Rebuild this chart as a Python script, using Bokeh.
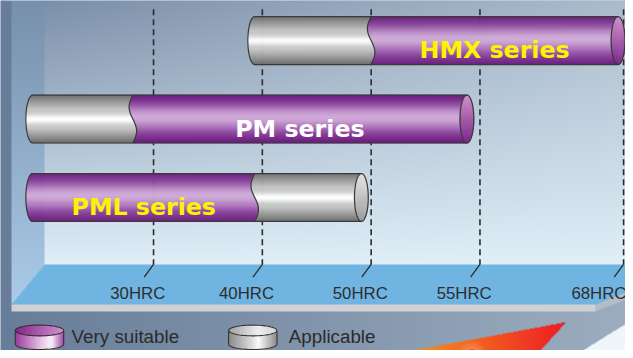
import numpy as np
from bokeh.plotting import figure
from bokeh.models import Range1d
from bokeh.core.properties import value
from bokeh.embed import file_html
from bokeh.resources import INLINE

# ---------------- data ----------------
tick_labels = ["30HRC", "40HRC", "50HRC", "55HRC", "68HRC"]
tick_hrc = [30, 40, 50, 55, 68]
series_names = ["HMX series", "PM series", "PML series"]
applicable_from = [39.3, 18.9, 39.3]
applicable_to = [50.0, 28.1, 49.1]
suitable_from = [50.0, 28.1, 18.9]
suitable_to = [67.5, 54.4, 39.3]
legend_labels = ["Very suitable", "Applicable"]

# ------------- scale / style -------------
AXIS_POS = [0.0, 1.0, 2.0, 3.0, 4.32]      # non-uniform axis of the artwork
LABEL_NUDGE_PX = [0, 0, 5, 0, -9]
LABEL_COLORS = ["#fff200", "#ffffff", "#fff200"]
PX, PY = 110.2, 80.25                      # artwork pixels per x / y unit
X0, Y0 = 155.0, 201.5
REF_W, REF_H = 633, 358                    # artwork size
W, H = 625, 350                            # figure size
FS = W / REF_W                             # font scale


def X(px):
    return (np.asarray(px, float) - X0) / PX


def Y(py):
    return (Y0 - np.asarray(py, float)) / PY


def hrc_to_x(v):
    v = np.asarray(v, float)
    out = np.interp(v, tick_hrc, AXIS_POS)
    slope = (AXIS_POS[1] - AXIS_POS[0]) / (tick_hrc[1] - tick_hrc[0])
    return np.where(v < tick_hrc[0], AXIS_POS[0] + (v - tick_hrc[0]) * slope, out)


def C(h):
    h = h.lstrip("#")
    return np.array([int(h[i:i + 2], 16) for i in (0, 2, 4)], float)


def hexc(c):
    c = np.clip(np.round(c), 0, 255).astype(int)
    return "#%02x%02x%02x" % tuple(c)


def mixa(c1, c2, t):
    t = np.asarray(t, float)[..., None]
    return c1 * (1 - t) + c2 * t


def fpx(s):
    return "%.1fpx" % (s * FS)


# ------------- figure -------------
p = figure(width=W, height=H, output_backend="svg", toolbar_location=None,
           x_range=Range1d(float(X(0)), float(X(REF_W))),
           y_range=Range1d(float(Y(REF_H)), float(Y(0))),
           x_axis_location=None, y_axis_location=None, title=None,
           min_border=0, outline_line_color=None)
p.xgrid.visible = False
p.ygrid.visible = False
p.background_fill_color = "#8fa2b8"
p.border_fill_color = "#8fa2b8"

# ------------- background artwork (image) -------------
xs = (np.arange(W) + 0.5) * REF_W / W
ys = (np.arange(H) + 0.5) * REF_H / H
XX, YY = np.meshgrid(xs, ys)
img = mixa(C("#687d99"), C("#9cadbf"), np.clip(XX / 633, 0, 1))
# back wall
tw = np.clip(YY / 270, 0, 1)
top = mixa(C("#7b8fa9"), C("#aabbcc"), np.clip((XX - 45) / 588, 0, 1))
wall = top * (1 - tw[..., None]) + C("#e0eff8") * tw[..., None]
m = (XX >= 45) & (YY < 270)
img[m] = wall[m]
# left wall
lim = 270 + (45 - XX) * 41 / 34
m = (XX >= 11) & (XX < 45) & (YY < lim)
lw = mixa(C("#7790ab"), C("#abcbe8"), np.clip(YY / 311, 0, 1))
img[m] = lw[m]
# floor
xl = 45 - (YY - 270) * 34 / 41
yr = 311 - (XX - 603) * 0.4
m = (YY >= 270) & (YY < 311) & (XX >= xl) & ((XX <= 603) | (YY <= yr))
img[m] = C("#70b4e2")
m = (YY >= 311) & (YY < 318) & (XX >= 11) & (XX <= 603)
img[m] = C("#cfd1d4")
m = (XX > 603) & (YY > yr) & (YY <= yr + 7)
img[m] = C("#b4bcc5")
# orange/red wedge
ax, ay, bx, by, cx, cy = 418, 358, 573, 329, 547, 358


def side(x1, y1, x2, y2, x, y):
    return (x2 - x1) * (y - y1) - (y2 - y1) * (x - x1)


s1 = side(ax, ay, bx, by, XX, YY)
s2 = side(bx, by, cx, cy, XX, YY)
s3 = side(cx, cy, ax, ay, XX, YY)
m = ((s1 >= 0) & (s2 >= 0) & (s3 >= 0)) | ((s1 <= 0) & (s2 <= 0) & (s3 <= 0))
wedge = mixa(C("#f7941d"), C("#ed1c24"), np.clip((XX - ax) / (bx - ax), 0, 1))
img[m] = wedge[m]
d = np.hypot(XX - 478, YY - 364)
halo = np.clip(1 - d / 16, 0, 1)[..., None] * 0.6
glow = img * (1 - halo) + C("#fbd3c4") * halo
img[d < 16] = glow[d < 16]
img[d < 7] = C("#e8202a")
# white shape bottom right
m = (XX > 590) & (YY > 358 - (XX - 590) * 27 / 43)
img[m] = C("#eef6fb")

rgba = np.zeros((H, W, 4), dtype=np.uint8)
rgba[..., :3] = np.clip(img, 0, 255).astype(np.uint8)
rgba[..., 3] = 255
arr = np.ascontiguousarray(rgba[::-1]).view(np.uint32).reshape(H, W)
p.image_rgba(image=[arr], x=float(X(0)), y=float(Y(REF_H)),
             dw=float(X(REF_W) - X(0)), dh=float(Y(0) - Y(REF_H)))

# ------------- ticks -------------
tick_x = hrc_to_x(tick_hrc)
nt = len(tick_labels)
p.segment(x0=list(tick_x), y0=[float(Y(9))] * nt, x1=list(tick_x), y1=[float(Y(270))] * nt,
          line_color="#2b2b2b", line_width=1.6, line_dash="6 4")
p.segment(x0=list(tick_x), y0=[float(Y(270))] * nt, x1=list(tick_x - 9.5 / PX),
          y1=[float(Y(283))] * nt, line_color="#2b2b2b", line_width=1.3)
p.text(x=list(tick_x + (np.array(LABEL_NUDGE_PX) - 16) / PX), y=[float(Y(299.5))] * nt,
       text=tick_labels, text_align="center", text_baseline="middle",
       text_font=value("Liberation Sans"), text_font_size=fpx(17), text_color="#2e2e2e")

# ------------- cylinders -------------
HH = 24.5 / PY
A = 7.0 / PX
AMP = 3.8 / PX
N = 48


def purple(v):
    s = 1 - np.abs(v)
    base = mixa(C("#6a1c7c"), C("#9a56aa"), np.clip(s * 1.6, 0, 1))
    w = np.exp(-((v + 0.05) / 0.4) ** 2)[..., None]
    return base * (1 - w) + C("#d0abd8") * w


def gray(v):
    s = 1 - np.abs(v)
    base = mixa(C("#6e6e6e"), C("#c4c4c4"), np.clip(s * 1.7, 0, 1))
    w = np.exp(-((v - 0.02) / 0.2) ** 2)[..., None]
    return base * (1 - w) + C("#ffffff") * w


def face_purple(v):
    return mixa(C("#d394cc"), C("#7a2888"), (v + 1) / 2)


def face_gray(v):
    return mixa(C("#e8e8e8"), C("#9c9c9c"), (v + 1) / 2)


ve = np.linspace(-1, 1, N + 1)
vm = (ve[:-1] + ve[1:]) / 2
um = (vm + 1) / 2
L, R, T, B, F = [], [], [], [], []
FL, FR, FT, FB, FF = [], [], [], [], []
outlines_x, outlines_y = [], []
n = len(series_names)
for i in range(n):
    yc = n - 1 - i
    gray_left = applicable_from[i] < suitable_from[i]
    start = float(hrc_to_x(min(applicable_from[i], suitable_from[i])))
    end = float(hrc_to_x(max(applicable_to[i], suitable_to[i])))
    trans = float(hrc_to_x(applicable_to[i] if gray_left else suitable_to[i]))
    cap = A * np.sqrt(1 - vm ** 2)
    wave = -AMP * np.sin(2 * np.pi * um)
    tops = yc - HH * ve[:-1]
    bots = yc - HH * ve[1:]
    cl = gray(vm) if gray_left else purple(vm)
    cr = purple(vm) if gray_left else gray(vm)
    cf = face_purple(vm) if gray_left else face_gray(vm)
    for k in range(N):
        L += [start - cap[k], trans + wave[k]]
        R += [trans + wave[k] + 0.3 / PX, end]
        T += [tops[k], tops[k]]
        B += [bots[k], bots[k]]
        F += [hexc(cl[k]), hexc(cr[k])]
        FL.append(end - cap[k]); FR.append(end + cap[k])
        FT.append(tops[k]); FB.append(bots[k]); FF.append(hexc(cf[k]))
    th = np.linspace(np.pi / 2, 3 * np.pi / 2, 40)
    ox = np.concatenate([[end], start + A * np.cos(th), [end]])
    oy = np.concatenate([[yc + HH], yc + HH * np.sin(th), [yc - HH]])
    outlines_x.append(ox); outlines_y.append(oy)
    th2 = np.linspace(0, 2 * np.pi, 60)
    outlines_x.append(end + A * np.cos(th2)); outlines_y.append(yc + HH * np.sin(th2))
    uu = np.linspace(0, 1, 30)
    outlines_x.append(trans - AMP * np.sin(2 * np.pi * uu)); outlines_y.append(yc + HH - 2 * HH * uu)

p.quad(left=L, right=R, top=T, bottom=B, fill_color=F, line_color=F, line_width=0.6)
p.quad(left=FL, right=FR, top=FT, bottom=FB, fill_color=FF, line_color=FF, line_width=0.6)
p.multi_line(xs=[list(a) for a in outlines_x], ys=[list(a) for a in outlines_y],
             line_color="#3a3a3a", line_width=1.2)

for i in range(n):
    yc = n - 1 - i
    cxl = float((hrc_to_x(suitable_from[i]) + hrc_to_x(suitable_to[i])) / 2)
    p.text(x=[cxl], y=[yc - 10 / PY], text=[series_names[i]], text_align="center",
           text_baseline="alphabetic", text_font=value("DejaVu Sans"),
           text_font_style="bold", text_font_size=fpx(24), text_color=LABEL_COLORS[i])


# ------------- legend -------------
def disc(cx_px, side_cols, top_cols):
    rx, ry = 24.5, 5.5
    yt, yb = 337.5, 351.5
    nn = 40
    xe = np.linspace(cx_px - rx, cx_px + rx, nn + 1)
    xm = (xe[:-1] + xe[1:]) / 2
    q = (xm - (cx_px - rx)) / (2 * rx)
    h = ry * np.sqrt(np.clip(1 - ((xm - cx_px) / rx) ** 2, 0, 1))
    scol = [hexc(np.array([np.interp(qq, side_cols[0], [c[j] for c in side_cols[1]]) for j in range(3)])) for qq in q]
    tcol = [hexc(np.array([np.interp(qq, top_cols[0], [c[j] for c in top_cols[1]]) for j in range(3)])) for qq in q]
    p.quad(left=list(X(xe[:-1])), right=list(X(xe[1:]) + 0.3 / PX), top=[float(Y(yt))] * nn,
           bottom=list(Y(yb + h)), fill_color=scol, line_color=scol, line_width=0.5)
    p.quad(left=list(X(xe[:-1])), right=list(X(xe[1:]) + 0.3 / PX), top=list(Y(yt - h)),
           bottom=list(Y(yt + h)), fill_color=tcol, line_color=tcol, line_width=0.5)
    th = np.linspace(0, 2 * np.pi, 80)
    th_b = np.linspace(0, np.pi, 40)
    p.multi_line(xs=[list(X(cx_px + rx * np.cos(th))),
                     list(X(np.concatenate([[cx_px + rx], cx_px + rx * np.cos(th_b), [cx_px - rx]])))],
                 ys=[list(Y(yt + ry * np.sin(th))),
                     list(Y(np.concatenate([[yt], yb + ry * np.sin(th_b), [yt]])))],
                 line_color="#333333", line_width=1.1)


disc(39.5, ([0, 0.55, 0.75, 1], [C("#9a3a9a"), C("#e8c8e8"), C("#fbf3fb"), C("#a64aa8")]),
     ([0, 1], [C("#842586"), C("#d492cf")]))
disc(255.5, ([0, 0.5, 0.62, 1], [C("#8a8a8a"), C("#e0e0e0"), C("#ffffff"), C("#8c8c8c")]),
     ([0, 0.6, 1], [C("#a0a0a0"), C("#eeeeee"), C("#d6d6d6")]))
p.text(x=[float(X(72)), float(X(292))], y=[float(Y(343.5))] * 2, text=legend_labels,
       text_align="left", text_baseline="middle", text_font=value("Liberation Sans"),
       text_font_size=fpx(19), text_color="#2b2b2b")

open("out.html", "w").write(file_html(p, INLINE))
